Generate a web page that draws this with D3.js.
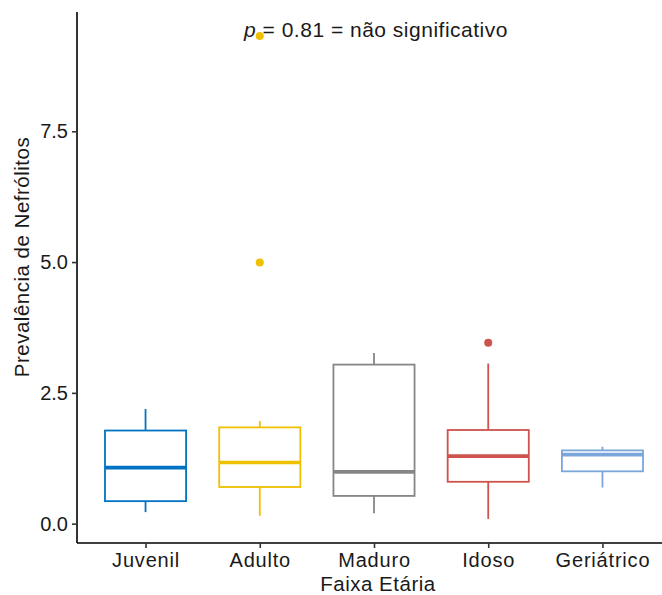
<!DOCTYPE html>
<html>
<head>
<meta charset="utf-8">
<script src="https://cdn.jsdelivr.net/npm/d3@7"></script>
<style>
  body { margin: 0; background: #fff; }
  text { font-family: "Liberation Sans", Arial, sans-serif; fill: #1a1a1a; }
</style>
</head>
<body>
<svg id="chart" width="662" height="595"></svg>
<script>
// faixas etarias e estatisticas dos boxplots
var categories = ["Juvenil", "Adulto", "Maduro", "Idoso", "Geriátrico"];
var colors = ["#0073C2", "#EFC000", "#868686", "#CD534C", "#7AA6DC"];
var whiskerLow = [0.22, 0.15, 0.20, 0.09, 0.69];
var q1 = [0.43, 0.70, 0.53, 0.80, 1.00];
var median = [1.07, 1.17, 0.99, 1.29, 1.32];
var q3 = [1.78, 1.84, 3.04, 1.79, 1.40];
var whiskerHigh = [2.19, 1.96, 3.26, 3.06, 1.47];
var outliers = [[], [4.99, 9.32], [], [3.46], []];
var yTicks = [0, 2.5, 5, 7.5];

var svg = d3.select("#chart");
var mLeft = 77, mBottom = 543, mTop = 12, mRight = 671;

var x = d3.scalePoint().domain(categories).range([mLeft, mRight]).padding(0.6);
var y = d3.scaleLinear().domain([-0.37, 9.78]).range([mBottom, mTop]);
var boxW = x.step() * 0.71;

var g = svg.append("g");
categories.forEach(function(c, i) {
  var cx = x(c), col = colors[i];
  var grp = g.append("g").attr("stroke", col).attr("fill", "none");
  grp.append("line").attr("x1", cx).attr("x2", cx)
    .attr("y1", y(q3[i])).attr("y2", y(whiskerHigh[i])).attr("stroke-width", 1.8);
  grp.append("line").attr("x1", cx).attr("x2", cx)
    .attr("y1", y(q1[i])).attr("y2", y(whiskerLow[i])).attr("stroke-width", 1.8);
  grp.append("rect").attr("x", cx - boxW / 2).attr("width", boxW)
    .attr("y", y(q3[i])).attr("height", y(q1[i]) - y(q3[i]))
    .attr("fill", "#fff").attr("stroke-width", 1.8);
  grp.append("line").attr("x1", cx - boxW / 2).attr("x2", cx + boxW / 2)
    .attr("y1", y(median[i])).attr("y2", y(median[i])).attr("stroke-width", 3.6);
  outliers[i].forEach(function(v) {
    g.append("circle").attr("cx", cx).attr("cy", y(v)).attr("r", 4).attr("fill", col);
  });
});

// eixos
var yAxis = svg.append("g").attr("transform", "translate(" + mLeft + ",0)")
  .call(d3.axisLeft(y).tickValues(yTicks).tickFormat(d3.format(".1f")).tickSize(5).tickPadding(4));
yAxis.select(".domain").attr("d", "M0," + mTop + "V" + mBottom);
var xAxis = svg.append("g").attr("transform", "translate(0," + mBottom + ")")
  .call(d3.axisBottom(x).tickSize(5).tickPadding(5));
xAxis.select(".domain").attr("d", "M" + mLeft + ",0H662");
svg.selectAll(".domain").attr("stroke", "#000").attr("stroke-width", 1.6);
svg.selectAll(".tick line").attr("stroke", "#333").attr("stroke-width", 1.6);
svg.selectAll(".tick text").attr("font-size", 20).attr("fill", "#1a1a1a")
  .attr("font-family", "'Liberation Sans', Arial, sans-serif");
xAxis.selectAll(".tick text").attr("letter-spacing", 0.8);

svg.append("text").attr("x", 378).attr("y", 591).attr("text-anchor", "middle")
  .attr("font-size", 20.5).attr("letter-spacing", 0.5).text("Faixa Etária");
svg.append("text").attr("transform", "translate(29,257) rotate(-90)")
  .attr("text-anchor", "middle").attr("font-size", 20.5).attr("letter-spacing", 0.5)
  .text("Prevalência de Nefrólitos");

var lab = svg.append("text").attr("x", 376).attr("y", 37).attr("text-anchor", "middle")
  .attr("font-size", 21).attr("letter-spacing", 0.5);
lab.append("tspan").attr("font-style", "italic").text("p");
lab.append("tspan").text(" = 0.81 = não significativo");
// o ponto extremo fica por cima do rotulo
g.raise();
</script>
</body>
</html>
